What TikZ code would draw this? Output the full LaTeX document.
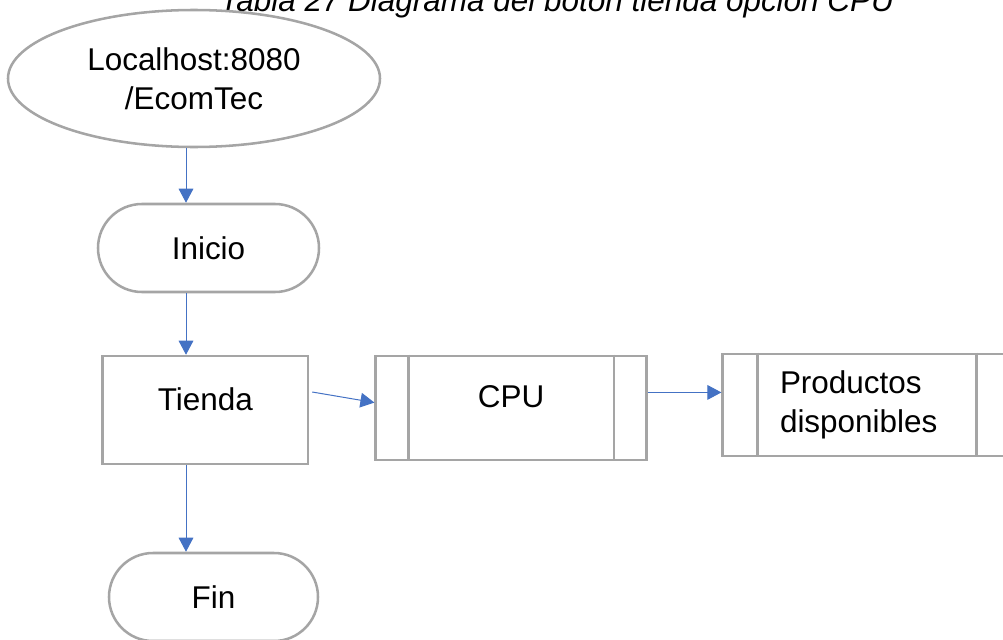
\documentclass[tikz,border=0pt]{standalone}
\usepackage{fontspec}
\setmainfont{Liberation Sans}
\usetikzlibrary{arrows.meta}
\usetikzlibrary{shapes.geometric}
\usetikzlibrary{positioning}

\definecolor{linegray}{HTML}{A5A5A5}
\definecolor{flowblue}{HTML}{4472C4}

\begin{document}
\begin{tikzpicture}
[x=0.75pt,y=-0.75pt,>={Triangle[length=10.5pt,width=11pt]},%
  every node/.style={font=\fontsize{23.6}{29.25}\selectfont},
  bar/.style={draw=linegray,line width=1.9pt},
  box/.style={bar,rectangle,inner sep=0pt,text height=0.75em,text depth=0.75em},
  term/.style={bar,rectangle,rounded corners=33pt,inner sep=0pt,minimum height=66pt},
  flow/.style={flowblue,line width=0.75pt}]
\useasboundingbox (0,0) rectangle (1003,639);
%% nodes
\node[anchor=base] (title) at (557,11.5) {\itshape Tabla 27 Diagrama del botón tienda opción CPU};
\node[bar,ellipse,inner sep=0pt,minimum width=279pt,minimum height=102.75pt,align=center]
  (ell) at (194,78.5) {Localhost:8080\\/EcomTec};
\node[term,minimum width=165.75pt] (inicio) at (208.5,248) {Inicio};
\node[box,minimum width=154pt,minimum height=81pt] (tienda) at (205.3,410) {Tienda};
\node[box,minimum width=203.25pt,minimum height=78.2pt] (cpu) at (511.2,407.9) {CPU};
\node[bar,rectangle,inner sep=0pt,minimum width=216.5pt,minimum height=76.5pt,
  text width=130.5pt,align=left] (prod) at (867,405) {Productos\\disponibles};
\node[term,minimum width=156.75pt] (fin) at (213.5,597) {Fin};
%% side bars of the subprocess boxes
\foreach \n/\d in {cpu/25.5pt,prod/27.2pt} {
  \draw[bar] ([xshift=\d]\n.north west) -- ([xshift=\d]\n.south west);
  \draw[bar] ([xshift=-\d]\n.north east) -- ([xshift=-\d]\n.south east);
}
%% connectors
\coordinate (axis) at (186,0);
\coordinate (c1) at ([yshift=11.6pt]cpu.east);
\path[->,flow]
(ell.south -| axis) edge (inicio.north -| axis)
(inicio.south -| axis) edge (tienda.north -| axis)
(tienda.south -| axis) edge (fin.north -| axis)
([shift={(2.25pt,13.5pt)}]tienda.east) edge ([yshift=4pt]cpu.west)
(c1) edge (c1 -| prod.west);
\end{tikzpicture}
\end{document}
